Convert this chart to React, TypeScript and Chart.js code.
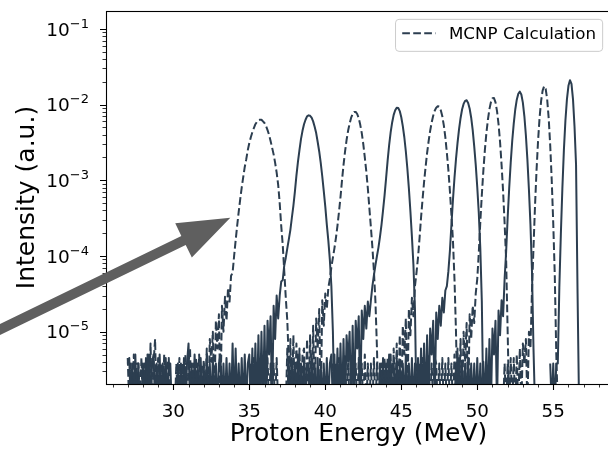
import React, { useEffect, useRef } from "react";
import { Chart, registerables } from "chart.js";

Chart.register(...registerables);

// ---------- axes / text ----------
const FONT = "'DejaVu Sans', 'Liberation Sans', sans-serif";
const X_TITLE = "Proton Energy (MeV)";
const Y_TITLE = "Intensity (a.u.)";
const LEGEND_LABEL = "MCNP Calculation";
const X_MIN = 25.57;
const X_MAX = 58.8;
const Y_MIN = 2.04e-6;
const Y_MAX = 0.172;
const X_TICKS = [30, 35, 40, 45, 50, 55];
const X_MINOR = [26, 27, 28, 29, 31, 32, 33, 34, 36, 37, 38, 39, 41, 42, 43, 44, 46, 47, 48, 49, 51, 52, 53, 54, 56, 57, 58];
const Y_TICKS = [1e-5, 1e-4, 1e-3, 1e-2, 1e-1];
const Y_TICK_BASE = "10";
const Y_TICK_EXPONENTS = ["\u22125", "\u22124", "\u22123", "\u22122", "\u22121"];
const Y_MINOR_MULT = [2, 3, 4, 5, 6, 7, 8, 9];
const Y_MINOR_DECADES = [1e-6, 1e-5, 1e-4, 1e-3, 1e-2, 1e-1];

// arrow annotation (data coordinates: energy, intensity)
const ARROW_TAIL = [18.3, 1.0e-5];
const ARROW_TIP = [33.75, 3.2e-4];

const LINE_COLOR = "#2c3e50";
const ARROW_COLOR = "#5f5f5f";

// ---------- data: spectra in 0.1 MeV bins ----------
const BIN_WIDTH = 0.1;
const EMPTY_BIN_LEVEL = 1e-6; // empty (zero-count) bins are drawn just below the axis floor

const S1_START = 27.0; // dashed, peak ~35.7 MeV
const S1_VALUES = [
  4.5e-6, 0, 3.8e-6, 0, 5e-6, 0, 3.8e-6, 3.8e-6, 0, 4.5e-6,
  0, 3.8e-6, 0, 5e-6, 0, 7e-6, 0, 3.8e-6, 8e-6, 0,
  4.5e-6, 0, 3.8e-6, 0, 5e-6, 0, 3.8e-6, 4.5e-6, 0, 0,
  0, 0, 3.8e-6, 0, 4.5e-6, 0, 3.8e-6, 0, 5e-6, 0,
  3.8e-6, 6e-6, 0, 3.8e-6, 0, 4.5e-6, 0, 5e-6, 0, 3.8e-6,
  4e-6, 0, 6e-6, 0, 8e-6, 4e-6, 1.0e-5, 0, 1.4e-5, 6e-6,
  1.7e-5, 0, 2.2e-5, 1.0e-5, 2.9e-5, 1.4e-5, 3.8e-5, 2.5e-5, 5.5e-5, 6.0e-5,
  1.0e-4, 1.6e-4, 2.5e-4, 3.8e-4, 5.6e-4, 8.0e-4, 1.1e-3, 1.5e-3, 1.9e-3, 2.5e-3,
  3.1e-3, 3.7e-3, 4.3e-3, 4.9e-3, 5.5e-3, 5.9e-3, 6.2e-3, 6.3e-3,
  6.3e-3, 6.0e-3, 5.7e-3, 5.2e-3, 4.6e-3, 4.0e-3, 3.3e-3, 2.7e-3, 2.2e-3, 1.7e-3,
  1.26e-3, 8.7e-4, 5.0e-4, 2.5e-4, 1.4e-4, 6.3e-5, 2.8e-5, 1.4e-5, 4e-6, 0,
];

const S2_START = 27.0; // solid, peak ~38.9 MeV
const S2_VALUES = [
  3.8e-6, 4.5e-6, 0, 3.8e-6, 0, 5e-6, 0, 3.8e-6, 0, 0,
  3.8e-6, 0, 4.5e-6, 0, 5e-6, 0, 3.8e-6, 5e-6, 0, 3.8e-6,
  0, 5e-6, 0, 3.8e-6, 0, 4.5e-6, 0, 3.8e-6, 3.8e-6, 0,
  0, 0, 0, 3.8e-6, 0, 3.8e-6, 0, 4.5e-6, 0, 3.8e-6,
  7e-6, 0, 3.8e-6, 0, 5e-6, 0, 3.8e-6, 0, 4.5e-6, 0,
  3.8e-6, 0, 5e-6, 0, 3.8e-6, 0, 4.5e-6, 0, 3.8e-6, 0,
  3.8e-6, 5e-6, 0, 3.8e-6, 0, 4.5e-6, 0, 3.8e-6, 0, 7e-6,
  0, 6e-6, 0, 3.8e-6, 0, 4.5e-6, 0, 5e-6, 0, 3.8e-6,
  5e-6, 0, 6e-6, 0, 7e-6, 0, 9e-6, 0, 1.0e-5, 0,
  1.2e-5, 0, 1.4e-5, 5e-6, 1.6e-5, 0, 2.2e-5, 8e-6, 3.0e-5, 1.5e-5,
  3.0e-5, 4.6e-5, 4.8e-5, 7.5e-5, 9.5e-5, 1.26e-4, 1.66e-4, 2.2e-4, 3.2e-4, 4.6e-4,
  7.1e-4, 1.15e-3, 1.75e-3, 2.5e-3, 3.5e-3, 4.5e-3, 5.5e-3, 6.3e-3, 7.0e-3, 7.2e-3,
  7.1e-3, 6.7e-3, 6.0e-3, 5.1e-3, 4.2e-3, 3.2e-3, 2.4e-3, 1.7e-3, 1.13e-3, 7.2e-4,
  4.5e-4, 2.6e-4, 1.6e-4, 8.9e-5, 4.0e-5, 1.0e-5, 0,
];

const S3_START = 35.0; // dashed, peak ~41.9 MeV
const S3_VALUES = [
  0, 3.8e-6, 0, 4.5e-6, 0, 3.8e-6, 0, 3.8e-6, 5e-6, 0,
  3.8e-6, 0, 4.5e-6, 0, 3.8e-6, 0, 3.8e-6, 0, 4.5e-6, 0,
  0, 0, 0,
  0, 0, 6e-6, 0, 8e-6, 0, 9e-6, 0, 7e-6, 0,
  6e-6, 0, 5e-6, 6e-6, 0, 8e-6, 0, 9e-6, 0, 1.2e-5,
  0, 1.5e-5, 6e-6, 2.0e-5, 0, 2.6e-5, 1.2e-5, 3.2e-5, 2.0e-5, 3.8e-5,
  5.0e-5, 7.1e-5, 9.5e-5, 1.26e-4, 1.74e-4, 2.5e-4, 3.8e-4, 6.0e-4, 1.0e-3, 1.6e-3,
  2.4e-3, 3.4e-3, 4.5e-3, 5.6e-3, 6.7e-3, 7.5e-3, 8.0e-3,
  8.0e-3, 7.5e-3, 6.6e-3, 5.4e-3, 4.2e-3, 3.0e-3, 2.0e-3, 1.3e-3, 7.8e-4, 4.3e-4,
  2.4e-4, 1.3e-4, 6.3e-5, 2.5e-5, 6e-6, 0,
];

const S4_START = 37.5; // solid, peak ~44.7 MeV
const S4_VALUES = [
  0, 3.8e-6, 0, 4.5e-6, 0, 3.8e-6, 0, 5e-6, 0, 3.8e-6,
  0, 4.5e-6, 0, 3.8e-6, 3.8e-6, 0, 5e-6, 0, 3.8e-6, 0,
  4.5e-6, 0, 3.8e-6, 0, 3.8e-6, 0, 4.5e-6, 0, 3.8e-6, 5e-6,
  0, 5e-6, 0, 6e-6, 0, 7e-6, 0, 8e-6, 0, 9e-6,
  4e-6, 1.0e-5, 0, 1.2e-5, 0, 1.4e-5, 6e-6, 1.6e-5, 0, 1.9e-5,
  8e-6, 2.2e-5, 1.1e-5, 2.5e-5, 1.6e-5,
  2.6e-5, 4.0e-5, 5.6e-5, 7.6e-5, 1.0e-4, 1.3e-4, 1.8e-4, 2.6e-4, 4.0e-4, 6.3e-4,
  1.06e-3, 1.8e-3, 2.9e-3, 4.3e-3, 5.8e-3, 7.3e-3, 8.4e-3, 9.1e-3,
  9.0e-3, 8.2e-3, 6.8e-3, 5.2e-3, 3.7e-3, 2.4e-3, 1.43e-3, 7.8e-4, 3.9e-4, 1.8e-4,
  7.6e-5, 2.0e-5, 0,
];

const S5_START = 40.5; // dashed, peak ~47.4 MeV
const S5_VALUES = [
  3.8e-6, 0, 3.8e-6, 0, 4.5e-6, 0, 3.8e-6, 0, 5e-6, 0,
  3.8e-6, 0, 4.5e-6, 3.8e-6, 0, 3.8e-6, 0, 4.5e-6, 0, 3.8e-6,
  0, 5e-6, 0, 3.8e-6, 0, 3.8e-6, 0, 4.5e-6, 0, 3.8e-6,
  0, 0, 3.8e-6, 0, 4.5e-6,
  0, 4.5e-6, 0, 5e-6, 0, 6e-6, 0, 7e-6, 0, 9e-6,
  0, 1.2e-5, 5e-6, 1.5e-5, 0, 2.0e-5, 9e-6, 2.8e-5, 1.6e-5,
  4.0e-5, 6.0e-5, 9.5e-5, 1.7e-4, 3.2e-4, 5.6e-4, 9.5e-4, 1.5e-3, 2.3e-3, 3.3e-3,
  4.5e-3, 5.8e-3, 7.1e-3, 8.3e-3, 9.1e-3, 9.5e-3,
  9.4e-3, 8.4e-3, 7.0e-3, 5.3e-3, 3.7e-3, 2.3e-3, 1.36e-3, 7.2e-4, 3.5e-4, 1.6e-4,
  5.0e-5, 1.0e-5, 0,
];

const S6_START = 43.5; // solid, peak ~49.3 MeV
const S6_VALUES = [
  0, 3.8e-6, 0, 4.5e-6, 0, 3.8e-6, 0, 5e-6, 0, 3.8e-6,
  3.8e-6, 0, 4.5e-6, 0, 3.8e-6, 0, 3.8e-6, 0, 5e-6, 0,
  3.8e-6, 0, 4.5e-6, 0, 3.8e-6,
  0, 4.5e-6, 0, 6e-6, 0, 7e-6, 0, 9e-6, 0, 1.1e-5,
  5e-6, 1.4e-5, 0, 1.8e-5, 8e-6, 2.2e-5, 1.2e-5, 2.8e-5, 1.8e-5, 3.5e-5,
  4.0e-5, 6.3e-5, 1.17e-4, 2.6e-4, 5.5e-4, 1.07e-3, 1.9e-3, 3.1e-3, 4.7e-3, 6.6e-3,
  8.6e-3, 1.02e-2, 1.12e-2,
  1.14e-2, 1.05e-2, 8.8e-3, 6.7e-3, 4.6e-3, 2.8e-3, 1.6e-3, 8.1e-4, 3.7e-4, 1.26e-4,
  2.5e-5, 0,
];

const S7_START = 46.0; // dashed, peak ~51.1 MeV
const S7_VALUES = [
  3.8e-6, 0, 3.8e-6, 0, 4.5e-6, 0, 3.8e-6, 0, 5e-6, 0,
  3.8e-6, 0, 4.5e-6, 3.8e-6, 0, 3.8e-6, 0, 4.5e-6, 0, 3.8e-6,
  0, 4.5e-6, 0,
  3.8e-6, 0, 5e-6, 0, 6e-6, 0, 8e-6, 0, 1.0e-5, 4e-6,
  1.3e-5, 0, 1.7e-5, 8e-6, 2.2e-5, 1.3e-5,
  3.2e-5, 5.0e-5, 1.1e-4, 2.8e-4, 6.4e-4, 1.33e-3, 2.5e-3, 4.2e-3, 6.3e-3, 8.7e-3,
  1.08e-2, 1.21e-2,
  1.22e-2, 1.07e-2, 8.2e-3, 5.5e-3, 3.2e-3, 1.6e-3, 7.1e-4, 2.7e-4, 8.9e-5, 1.0e-5, 0,
];

const S8_START = 48.5; // solid, peak ~52.8 MeV
const S8_VALUES = [
  0, 3.8e-6, 0, 4.5e-6, 0, 3.8e-6, 0, 3.8e-6, 0, 4.5e-6,
  0, 3.8e-6, 0, 3.8e-6, 0, 4.5e-6, 0, 3.8e-6, 0,
  4e-6, 0, 6e-6, 0, 8e-6, 0, 1.1e-5, 5e-6, 1.4e-5, 0,
  1.9e-5, 9e-6, 2.6e-5, 1.6e-5,
  5.0e-5, 1.14e-4, 3.2e-4, 7.8e-4, 1.7e-3, 3.3e-3, 5.6e-3, 8.6e-3, 1.16e-2, 1.39e-2, 1.48e-2,
  1.36e-2, 1.06e-2, 7.0e-3, 3.9e-3, 1.86e-3, 7.5e-4, 2.6e-4, 6.3e-5, 6e-6, 0,
];

const S9_START = 51.7; // dashed, peak ~54.4 MeV
const S9_VALUES = [
  0, 3.8e-6, 0, 3.8e-6, 0, 4.5e-6, 0, 4.5e-6, 0, 5e-6,
  0, 6e-6, 0, 7e-6, 3.8e-6, 8e-6, 0, 1.0e-5, 6e-6,
  3.5e-5, 1.29e-4, 4.6e-4, 1.35e-3, 3.3e-3, 6.7e-3, 1.11e-2, 1.53e-2, 1.75e-2,
  1.62e-2, 1.17e-2, 6.6e-3, 2.9e-3, 1.0e-3, 2.7e-4, 5.6e-5, 5e-6, 0,
];

const S10_START = 54.8; // solid, peak ~56.1 MeV
const S10_VALUES = [
  3.8e-6, 0, 3.8e-6, 0, 3.8e-6, 3.8e-6, 3.8e-5, 1.94e-4, 7.8e-4, 2.5e-3,
  6.1e-3, 1.17e-2, 1.77e-2, 2.1e-2, 1.88e-2, 1.17e-2, 5.1e-3, 1.6e-3, 3.2e-5, 0,
];

const SERIES = [
  { start: S1_START, values: S1_VALUES, dashed: true },
  { start: S2_START, values: S2_VALUES, dashed: false },
  { start: S3_START, values: S3_VALUES, dashed: true },
  { start: S4_START, values: S4_VALUES, dashed: false },
  { start: S5_START, values: S5_VALUES, dashed: true },
  { start: S6_START, values: S6_VALUES, dashed: false },
  { start: S7_START, values: S7_VALUES, dashed: true },
  { start: S8_START, values: S8_VALUES, dashed: false },
  { start: S9_START, values: S9_VALUES, dashed: true },
  { start: S10_START, values: S10_VALUES, dashed: false },
];

const DASH = [7.7, 3.3];

function roundRectPath(ctx: CanvasRenderingContext2D, x: number, y: number, w: number, h: number, r: number) {
  ctx.beginPath();
  ctx.moveTo(x + r, y);
  ctx.lineTo(x + w - r, y);
  ctx.arcTo(x + w, y, x + w, y + r, r);
  ctx.lineTo(x + w, y + h - r);
  ctx.arcTo(x + w, y + h, x + w - r, y + h, r);
  ctx.lineTo(x + r, y + h);
  ctx.arcTo(x, y + h, x, y + h - r, r);
  ctx.lineTo(x, y + r);
  ctx.arcTo(x, y, x + r, y, r);
  ctx.closePath();
}

const decorPlugin = {
  id: "decor",
  afterDraw(chart: any) {
    const { ctx, chartArea: a, scales } = chart;
    const xs = scales.x;
    const ys = scales.y;
    ctx.save();
    ctx.strokeStyle = "#000";
    ctx.setLineDash([]);

    // tick marks (outward)
    ctx.lineWidth = 0.8;
    ctx.beginPath();
    for (const v of X_MINOR) {
      if (v < X_MIN || v > X_MAX) continue;
      const px = Math.round(xs.getPixelForValue(v)) + 0.5;
      ctx.moveTo(px, a.bottom);
      ctx.lineTo(px, a.bottom + 3.5);
    }
    for (const d of Y_MINOR_DECADES) {
      for (const m of Y_MINOR_MULT) {
        const v = d * m;
        if (v < Y_MIN || v > Y_MAX) continue;
        const py = Math.round(ys.getPixelForValue(v)) + 0.5;
        ctx.moveTo(a.left, py);
        ctx.lineTo(a.left - 3.5, py);
      }
    }
    ctx.stroke();
    ctx.lineWidth = 1.1;
    ctx.beginPath();
    for (const v of X_TICKS) {
      const px = Math.round(xs.getPixelForValue(v)) + 0.5;
      ctx.moveTo(px, a.bottom);
      ctx.lineTo(px, a.bottom + 6);
    }
    for (const v of Y_TICKS) {
      const py = Math.round(ys.getPixelForValue(v)) + 0.5;
      ctx.moveTo(a.left, py);
      ctx.lineTo(a.left - 6, py);
    }
    ctx.stroke();

    // y tick labels: 10 with superscript exponent
    const F = 18.5;
    const FE = 13;
    ctx.fillStyle = "#000";
    ctx.textAlign = "left";
    ctx.textBaseline = "alphabetic";
    Y_TICKS.forEach((v, i) => {
      const py = ys.getPixelForValue(v);
      const exp = Y_TICK_EXPONENTS[i];
      ctx.font = `${FE}px ${FONT}`;
      const ew = ctx.measureText(exp).width;
      ctx.font = `${F}px ${FONT}`;
      const bw = ctx.measureText(Y_TICK_BASE).width;
      const right = a.left - 17;
      const baseline = py + 6.7;
      ctx.fillText(Y_TICK_BASE, right - ew - bw, baseline);
      ctx.font = `${FE}px ${FONT}`;
      ctx.fillText(exp, right - ew, baseline - 8);
    });

    // frame (spines)
    ctx.lineWidth = 1.1;
    ctx.strokeRect(Math.round(a.left) + 0.5, Math.round(a.top) + 0.5, Math.round(a.right - a.left), Math.round(a.bottom - a.top));

    // legend
    const fs = 16.7;
    ctx.font = `${fs}px ${FONT}`;
    const tw = ctx.measureText(LEGEND_LABEL).width;
    const pad = 0.4 * fs;
    const hl = 2 * fs;
    const htp = 0.8 * fs;
    const w = pad + hl + htp + tw + pad;
    const h = 32;
    const lx = a.right - 0.5 * fs - w;
    const ly = a.top + 0.5 * fs;
    roundRectPath(ctx, lx, ly, w, h, 3.5);
    ctx.fillStyle = "rgba(255,255,255,0.8)";
    ctx.fill();
    ctx.strokeStyle = "#cccccc";
    ctx.lineWidth = 1;
    ctx.stroke();
    ctx.strokeStyle = LINE_COLOR;
    ctx.lineWidth = 2;
    ctx.setLineDash(DASH);
    ctx.beginPath();
    ctx.moveTo(lx + pad, ly + 14);
    ctx.lineTo(lx + pad + hl, ly + 14);
    ctx.stroke();
    ctx.setLineDash([]);
    ctx.fillStyle = "#000";
    ctx.fillText(LEGEND_LABEL, lx + pad + hl + htp, ly + 20);

    // arrow annotation
    const tx = xs.getPixelForValue(ARROW_TIP[0]);
    const ty = ys.getPixelForValue(ARROW_TIP[1]);
    const fx = xs.getPixelForValue(ARROW_TAIL[0]);
    const fy = ys.getPixelForValue(ARROW_TAIL[1]);
    const dx = tx - fx;
    const dy = ty - fy;
    const len = Math.hypot(dx, dy);
    const ux = dx / len;
    const uy = dy / len;
    const nx = -uy;
    const ny = ux;
    const sw = 5;
    const headLen = 52;
    const headW = 19;
    const bx = tx - ux * headLen;
    const by = ty - uy * headLen;
    ctx.fillStyle = ARROW_COLOR;
    ctx.beginPath();
    ctx.moveTo(fx + nx * sw, fy + ny * sw);
    ctx.lineTo(bx + nx * sw, by + ny * sw);
    ctx.lineTo(bx + nx * headW, by + ny * headW);
    ctx.lineTo(tx, ty);
    ctx.lineTo(bx - nx * headW, by - ny * headW);
    ctx.lineTo(bx - nx * sw, by - ny * sw);
    ctx.lineTo(fx - nx * sw, fy - ny * sw);
    ctx.closePath();
    ctx.fill();
    ctx.restore();
  },
};

export default function App() {
  const ref = useRef<HTMLCanvasElement>(null);
  useEffect(() => {
    document.body.style.margin = "0";
    if (!ref.current) return;
    const datasets = SERIES.map((s, i) => ({
      label: `spectrum ${i + 1}`,
      data: s.values.map((v, j) => ({
        x: Math.round((s.start + j * BIN_WIDTH) * 100) / 100,
        y: v > 0 ? v : EMPTY_BIN_LEVEL,
      })),
      borderColor: LINE_COLOR,
      backgroundColor: LINE_COLOR,
      borderWidth: 2,
      borderDash: s.dashed ? DASH : [],
      borderJoinStyle: "round" as const,
      borderCapStyle: "butt" as const,
      pointRadius: 0,
      pointHoverRadius: 0,
      tension: 0,
      fill: false,
    }));
    const chart = new Chart(ref.current, {
      type: "line",
      data: { datasets },
      options: {
        animation: false,
        responsive: false,
        maintainAspectRatio: false,
        devicePixelRatio: 1,
        events: [],
        layout: { padding: { left: 0, top: 11, right: 9, bottom: 0 } },
        plugins: { legend: { display: false }, tooltip: { enabled: false } },
        scales: {
          x: {
            type: "linear",
            min: X_MIN,
            max: X_MAX,
            grid: { display: false, drawTicks: false },
            border: { display: false },
            afterBuildTicks: (s: any) => {
              s.ticks = X_TICKS.map((v) => ({ value: v }));
            },
            afterFit: (s: any) => {
              s.height = 65;
              s.paddingLeft = 0;
              s.paddingRight = 0;
            },
            ticks: {
              autoSkip: false,
              maxRotation: 0,
              minRotation: 0,
              padding: 17,
              color: "#000",
              font: { family: FONT, size: 18.3 },
              callback: (v: any) => String(v),
            },
            title: {
              display: true,
              text: X_TITLE,
              color: "#000",
              font: { family: FONT, size: 25 },
              padding: { top: 0, bottom: 0 },
            },
          },
          y: {
            type: "logarithmic",
            min: Y_MIN,
            max: Y_MAX,
            grid: { display: false, drawTicks: false },
            border: { display: false },
            afterBuildTicks: (s: any) => {
              s.ticks = Y_TICKS.map((v) => ({ value: v }));
            },
            afterFit: (s: any) => {
              s.width = 106;
              s.paddingTop = 0;
              s.paddingBottom = 0;
            },
            ticks: { display: false },
            title: {
              display: true,
              text: Y_TITLE,
              color: "#000",
              font: { family: FONT, size: 25 },
              padding: { top: 12, bottom: 0 },
            },
          },
        },
      } as any,
      plugins: [decorPlugin],
    });
    return () => chart.destroy();
  }, []);
  return (
    <div style={{ position: "absolute", left: 0, top: 0, width: 608, height: 449, overflow: "hidden", background: "#fff" }}>
      <canvas ref={ref} width={620} height={449} style={{ display: "block", width: 620, height: 449 }} />
    </div>
  );
}
